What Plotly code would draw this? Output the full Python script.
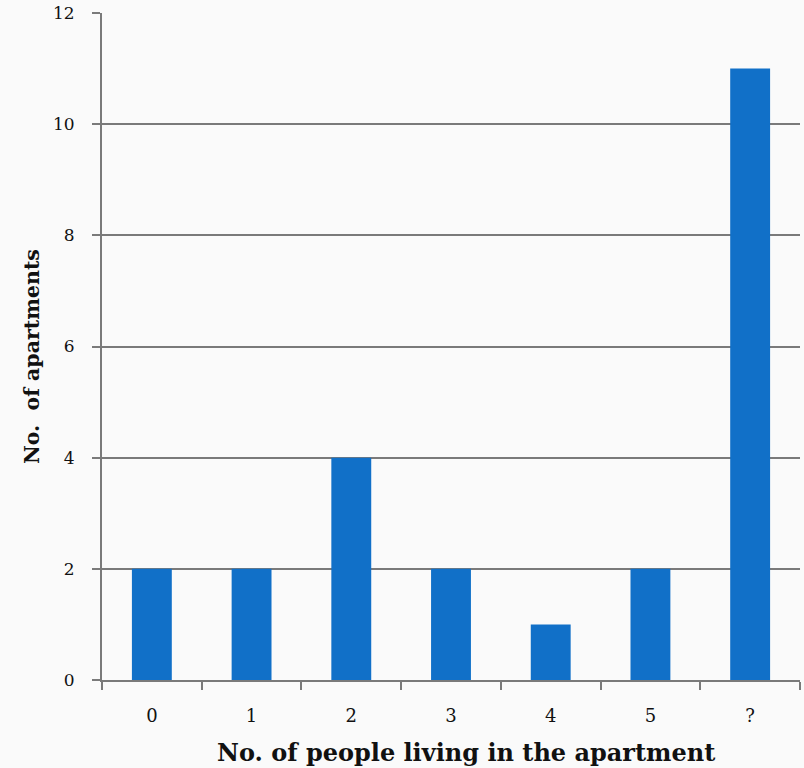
import plotly.graph_objects as go

categories = ["0", "1", "2", "3", "4", "5", "?"]
apartments = [2, 2, 4, 2, 1, 2, 11]
y_ticks = [0, 2, 4, 6, 8, 10, 12]
x_title = "No. of people living in the apartment"
y_title = "No.\u00a0\u00a0of apartments"

FONT = "DejaVu Serif"
GREY = "#7a7a7a"

fig = go.Figure(go.Bar(
    x=categories, y=apartments,
    marker=dict(color="#1170c8", line=dict(width=0)),
    width=0.4,
))

fig.update_layout(
    width=804, height=768,
    margin=dict(l=102, r=4, t=13, b=88),
    paper_bgcolor="#fafafa", plot_bgcolor="#fafafa",
    showlegend=False,
    font=dict(family=FONT, color="#111111"),
    xaxis=dict(
        type="category",
        tickson="boundaries", ticks="outside", ticklen=8, tickcolor=GREY, tickwidth=2,
        showline=True, linecolor=GREY, linewidth=2,
        showgrid=False,
        tickfont=dict(size=18, family=FONT),
        ticklabelstandoff=18,
    ),
    yaxis=dict(
        range=[0, 12], tickvals=y_ticks,
        ticks="outside", ticklen=8, tickcolor=GREY, tickwidth=2,
        showline=True, linecolor=GREY, linewidth=2,
        showgrid=True, gridcolor=GREY, gridwidth=2,
        zeroline=False,
        tickfont=dict(size=17, family=FONT),
        ticklabelstandoff=14,
    ),
    annotations=[
        dict(text=f"<b>{x_title}</b>", xref="paper", yref="paper",
             x=(466 - 102) / 698, y=-(752 - 680) / 667,
             xanchor="center", yanchor="middle", showarrow=False,
             font=dict(size=24, family=FONT)),
        dict(text=f"<b>{y_title}</b>", xref="paper", yref="paper",
             x=-(102 - 32) / 698, y=(680 - 357) / 667,
             xanchor="center", yanchor="middle", showarrow=False, textangle=-90,
             font=dict(size=20.5, family=FONT)),
    ],
)

fig.write_html("out.html")
